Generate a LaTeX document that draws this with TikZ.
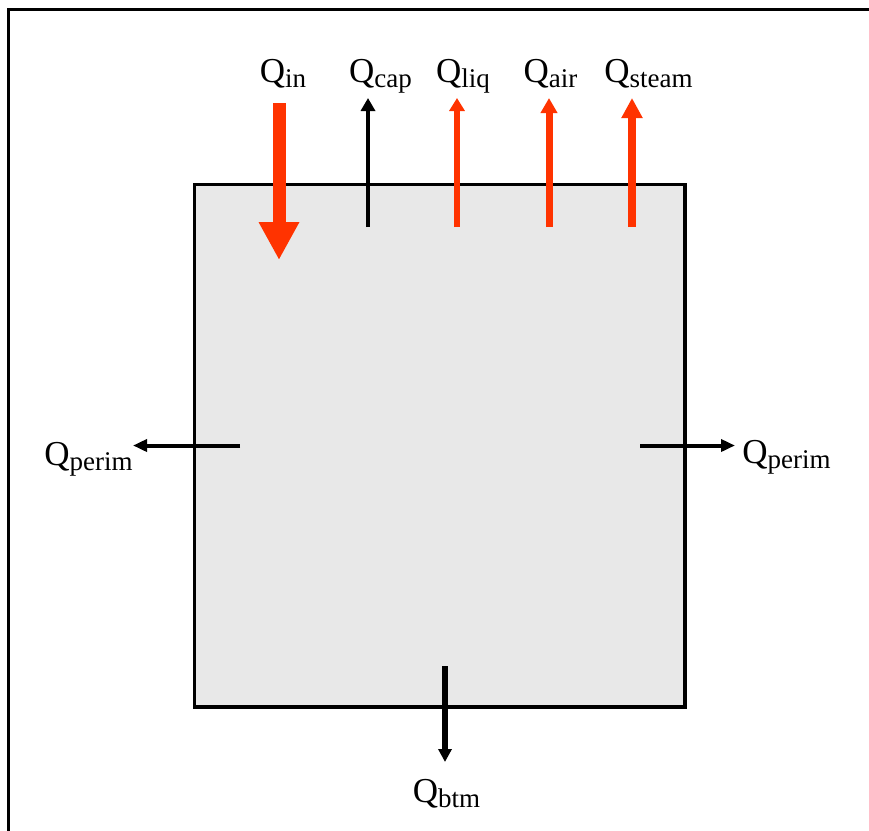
\documentclass[tikz,border=0pt]{standalone}
\usepackage{fontspec}
\setmainfont{Liberation Serif}
\usepackage{tikz}
\usetikzlibrary{arrows.meta}
\definecolor{flame}{HTML}{FF3300}
\definecolor{tankgray}{HTML}{E8E8E8}
\newcommand{\Qflow}[1]{Q\raisebox{-5pt}{\fontsize{27}{27}\selectfont #1}}

\begin{document}
\begin{tikzpicture}[x=1pt, y=-1pt,
  tank/.style={draw, line width=3.5pt, fill=tankgray, minimum width=490.5pt,
               minimum height=522.5pt, inner sep=0pt},
  qlab/.style={anchor=base, inner sep=0pt, font=\fontsize{35}{38}\selectfont},
  flowblk/.style={line width=4pt, draw=black, -{Triangle[length=13pt, width=14pt]}},
  flowred/.style={draw=flame, -{Triangle[length=13pt, width=15pt]}}
]
\useasboundingbox (0,0) rectangle (869,830);
\clip (0,0) rectangle (869,830);
% frame (only top and left sides fall inside the page)
\draw[line width=3.5pt] (8.5,900) -- (8.5,9.5) -- (950,9.5);

\node[tank] (tank) at (439.75,445.75) {};

% labels
\node[qlab] (in)    at (283,82)    {\Qflow{in}};
\node[qlab] (cap)   at (380.5,82)  {\Qflow{cap}};
\node[qlab] (liq)   at (463,82)    {\Qflow{liq}};
\node[qlab] (air)   at (550.5,82)  {\Qflow{air}};
\node[qlab] (steam) at (648.5,82)  {\Qflow{steam}};
\node[qlab] (perimL) at (88.5,465) {\Qflow{perim}};
\node[qlab] (perimR) at (786.5,463) {\Qflow{perim}};
\node[qlab] (btm)   at (446.5,802) {\Qflow{btm}};

% arrow ends
\coordinate (in0) at (279,103);   \coordinate (in1) at (279,260);
\coordinate (cap0) at (368,227);  \coordinate (cap1) at (368,98);
\coordinate (liq0) at (457,227);  \coordinate (liq1) at (457,98);
\coordinate (air0) at (549,227);  \coordinate (air1) at (549,98);
\coordinate (stm0) at (632,227);  \coordinate (stm1) at (632,98);
\coordinate (pl0) at (240,445.5); \coordinate (pl1) at (133,445.5);
\coordinate (pr0) at (640,445.5); \coordinate (pr1) at (735,445.5);
\coordinate (bt0) at (445,666);   \coordinate (bt1) at (445,762);

\draw[draw=flame, line width=13pt, -{Triangle[length=38pt, width=38pt]}] (in0) -- (in1);
\draw[flowblk] (cap0) -- (cap1);
\draw[flowred, line width=5.5pt] (liq0) -- (liq1);
\draw[flowred, line width=7pt, -{Triangle[length=15pt, width=16pt]}] (air0) -- (air1);
\draw[flowred, line width=8pt, -{Triangle[length=20pt, width=20pt]}] (stm0) -- (stm1);
\draw[flowblk, -{Triangle[length=14pt, width=12pt]}] (pl0) -- (pl1);
\draw[flowblk, -{Triangle[length=14pt, width=12pt]}] (pr0) -- (pr1);
\draw[flowblk, line width=5.5pt, -{Triangle[length=13pt, width=13pt]}] (bt0) -- (bt1);
\end{tikzpicture}
\end{document}
